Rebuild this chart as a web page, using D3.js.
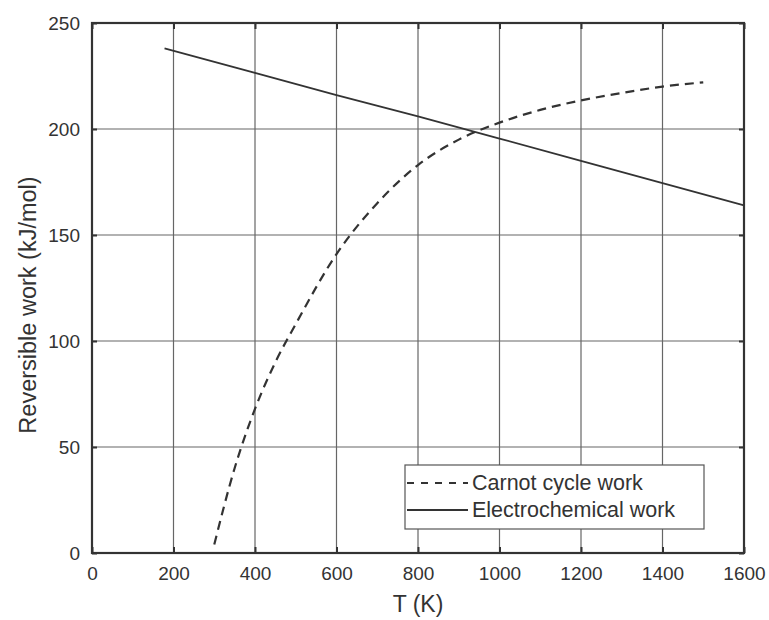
<!DOCTYPE html>
<html>
<head>
<meta charset="utf-8">
<script src="https://cdn.jsdelivr.net/npm/d3@7"></script>
<style>
  body { margin: 0; background: #fff; }
  svg text { font-family: "Liberation Sans", Arial, sans-serif; fill: #333; }
</style>
</head>
<body>
<svg id="chart" width="769" height="620"></svg>
<script>
// Data
const carnotT = [300, 350, 400, 450, 500, 600, 700, 800, 900, 1000, 1100, 1200, 1300, 1400, 1500];
const carnotWork = [4, 40, 68, 90, 108, 141, 165, 183, 195, 203, 209, 213.5, 217, 220, 222];
const echemT = [178, 400, 600, 800, 1000, 1200, 1400, 1600];
const echemWork = [238, 226.5, 216, 206, 195.5, 185, 174.5, 164];
const xTicks = [0, 200, 400, 600, 800, 1000, 1200, 1400, 1600];
const yTicks = [0, 50, 100, 150, 200, 250];
const legendLabels = ["Carnot cycle work", "Electrochemical work"];

const svg = d3.select("#chart");
const margin = { top: 23, right: 25, bottom: 67, left: 92 };
const width = 769, height = 620;

const x = d3.scaleLinear().domain([0, 1600]).range([margin.left, width - margin.right]);
const y = d3.scaleLinear().domain([0, 250]).range([height - margin.bottom, margin.top]);

const ink = "#333";

// Grid
svg.append("g")
  .selectAll("line")
  .data(xTicks.slice(1, -1))
  .join("line")
  .attr("x1", d => x(d)).attr("x2", d => x(d))
  .attr("y1", y(0)).attr("y2", y(250))
  .attr("stroke", "#666").attr("stroke-width", 1.2);

svg.append("g")
  .selectAll("line")
  .data(yTicks.slice(1, -1))
  .join("line")
  .attr("x1", x(0)).attr("x2", x(1600))
  .attr("y1", d => y(d)).attr("y2", d => y(d))
  .attr("stroke", "#666").attr("stroke-width", 1.2);

// Axes (inward ticks)
const xAxis = svg.append("g")
  .attr("transform", `translate(0,${y(0)})`)
  .call(d3.axisBottom(x).tickValues(xTicks).tickFormat(d3.format("d")).tickSize(-6).tickPadding(14));
const xAxisTop = svg.append("g")
  .attr("transform", `translate(0,${y(250)})`)
  .call(d3.axisTop(x).tickValues(xTicks).tickSize(-6).tickFormat(""));
const yAxis = svg.append("g")
  .attr("transform", `translate(${x(0)},0)`)
  .call(d3.axisLeft(y).tickValues(yTicks).tickFormat(d3.format("d")).tickSize(-5).tickPadding(12));
const yAxisRight = svg.append("g")
  .attr("transform", `translate(${x(1600)},0)`)
  .call(d3.axisRight(y).tickValues(yTicks).tickSize(-5).tickFormat(""));

[xAxis, xAxisTop, yAxis, yAxisRight].forEach(g => {
  g.select(".domain").remove();
  g.selectAll(".tick line").attr("stroke", ink).attr("stroke-width", 2);
  g.selectAll("text").attr("font-size", 19).attr("fill", ink)
    .style("font-family", "'Liberation Sans', Arial, sans-serif");
});

// Frame
svg.append("rect")
  .attr("x", x(0)).attr("y", y(250))
  .attr("width", x(1600) - x(0)).attr("height", y(0) - y(250))
  .attr("fill", "none").attr("stroke", ink).attr("stroke-width", 2.2);

// Lines
const carnot = carnotT.map((t, i) => ({ t, w: carnotWork[i] }));
const echem = echemT.map((t, i) => ({ t, w: echemWork[i] }));

const line = d3.line()
  .x(d => x(d.t))
  .y(d => y(d.w))
  .curve(d3.curveMonotoneX);

svg.append("path")
  .datum(carnot)
  .attr("fill", "none")
  .attr("stroke", ink)
  .attr("stroke-width", 2.2)
  .attr("stroke-dasharray", "9,6")
  .attr("d", line);

svg.append("path")
  .datum(echem)
  .attr("fill", "none")
  .attr("stroke", ink)
  .attr("stroke-width", 1.8)
  .attr("d", d3.line().x(d => x(d.t)).y(d => y(d.w)));

// Legend
const legend = svg.append("g").attr("transform", "translate(405,465)");
legend.append("rect")
  .attr("width", 299).attr("height", 64)
  .attr("fill", "#fff").attr("stroke", "#555").attr("stroke-width", 1.2);

legendLabels.forEach((label, i) => {
  const ly = 18 + i * 27;
  legend.append("line")
    .attr("x1", 2).attr("x2", 63)
    .attr("y1", ly).attr("y2", ly)
    .attr("stroke", ink)
    .attr("stroke-width", i === 0 ? 2 : 1.8)
    .attr("stroke-dasharray", i === 0 ? "7,7" : null);
  legend.append("text")
    .attr("x", 67).attr("y", ly + 7)
    .attr("font-size", 21.5)
    .text(label);
});

// Axis titles
svg.append("text")
  .attr("x", x(800)).attr("y", 612)
  .attr("text-anchor", "middle")
  .attr("font-size", 23)
  .text("T (K)");

svg.append("text")
  .attr("transform", "translate(36,305) rotate(-90)")
  .attr("text-anchor", "middle")
  .attr("font-size", 23.5)
  .text("Reversible work (kJ/mol)");
</script>
</body>
</html>
